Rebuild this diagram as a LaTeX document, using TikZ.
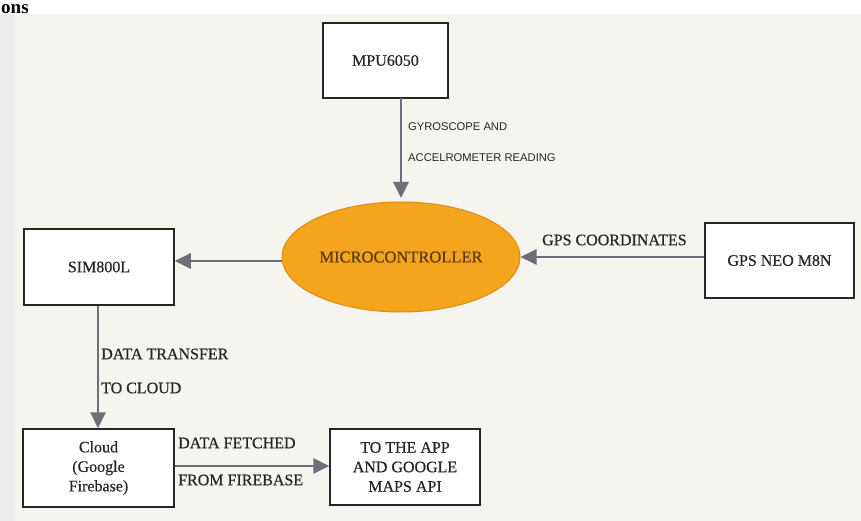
\documentclass[tikz,border=0pt]{standalone}
\usepackage{fontspec}
\setmainfont{Liberation Serif}
\newfontfamily\thickserif{Liberation Serif}[FakeBold=0.5]
\newfontfamily\lblsans{Liberation Sans}
\usetikzlibrary{arrows.meta,shapes.geometric}
\definecolor{paper}{HTML}{F6F4EF}
\definecolor{arrowgray}{HTML}{6F6E78}
\definecolor{ellfill}{HTML}{F5A41E}
\definecolor{elledge}{HTML}{E08A10}
\definecolor{elltext}{HTML}{5A3A08}
\tikzset{
  blockbox/.style={draw=black!85, line width=1.5pt, fill=white, inner sep=0pt, font=\thickserif\fontsize{16}{19.5}\selectfont, align=center, text=black!85},
  flowarrow/.style={draw=arrowgray, line width=2.8pt, -{Triangle[length=16pt,width=15pt]}},
  serlabel/.style={font=\thickserif\fontsize{16}{19}\selectfont, anchor=west, inner sep=0pt, text=black!85},
  sanlabel/.style={font=\lblsans\fontsize{11.2}{13}\selectfont, anchor=west, inner sep=0pt, text=black!85},
}
\begin{document}
\begin{tikzpicture}[x=1pt,y=-1pt]
\useasboundingbox (0,0) rectangle (861,521);
\fill[paper] (0,0) rectangle (861,521);
\fill[white] (0,0) rectangle (861,14);
\fill[black!7] (0,14) rectangle (15,521);
\node[anchor=base west, inner sep=0pt, font=\fontsize{19}{19}\selectfont\bfseries] (ons) at (1,14) {ons};

\node[blockbox, minimum width=125pt, minimum height=75pt] (mpu) at (385.5,60.5) {MPU6050};
\node[ellipse, draw=elledge, line width=1pt, fill=ellfill, minimum width=238pt, minimum height=110pt, inner sep=0pt, font=\thickserif\fontsize{16.5}{18}\selectfont, text=elltext] (mcu) at (401,257) {MICROCONTROLLER};
\node[blockbox, minimum width=150pt, minimum height=76pt] (sim) at (99,267) {SIM800L};
\node[blockbox, minimum width=149pt, minimum height=75pt] (gps) at (779.5,260.5) {GPS NEO M8N};
\node[blockbox, minimum width=151pt, minimum height=78pt] (cloud) at (98.5,468) {Cloud\\(Google\\Firebase)};
\node[blockbox, minimum width=150pt, minimum height=76pt] (app) at (405,467) {TO THE APP\\AND GOOGLE\\MAPS API};

\coordinate (mputop) at (401,98);
\coordinate (mcutop) at (401,198);
\draw[flowarrow] (mputop) -- (mcutop);
\draw[flowarrow] (mcu.west |- 0,261) -- (sim.east |- 0,261);
\draw[flowarrow] (gps.west |- 0,257) -- (mcu.east |- 0,257);
\draw[flowarrow] (sim.south -| 98,0) -- (cloud.north -| 98,0);
\draw[flowarrow] (cloud.east |- 0,466) -- (app.west |- 0,466);

\node[sanlabel] (l1) at (408,127) {GYROSCOPE AND};
\node[sanlabel] (l2) at (408,158) {ACCELROMETER READING};
\node[serlabel] (l3) at (542,240) {GPS COORDINATES};
\node[serlabel] (l4) at (101,354) {DATA TRANSFER};
\node[serlabel] (l5) at (101,388) {TO CLOUD};
\node[serlabel] (l6) at (178,443) {DATA FETCHED};
\node[serlabel] (l7) at (178,480) {FROM FIREBASE};
\end{tikzpicture}
\end{document}
